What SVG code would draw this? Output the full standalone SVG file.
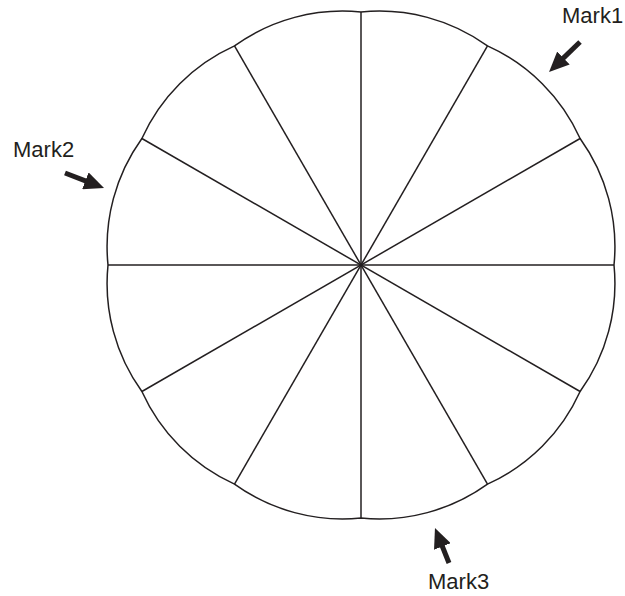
<svg xmlns="http://www.w3.org/2000/svg" width="625" height="596" viewBox="0 0 625 596">
<style>
.ln{fill:none;stroke:#231f20;stroke-width:1.5}
.ar{fill:none;stroke:#231f20;stroke-width:5}
.lb{font-family:"Liberation Sans",Arial,sans-serif;font-size:22px;fill:#231f20}
</style>
<defs>
<marker id="head" viewBox="0 0 20 18" refX="7" refY="9" markerWidth="20" markerHeight="18" markerUnits="userSpaceOnUse" orient="auto">
<path d="M0,0 L20,9 L0,18 z" fill="#231f20"/>
</marker>
</defs>
<rect width="625" height="596" fill="#fff"/>
<g id="wheel">
<path class="ln" d="M361,12 A185,185 0 0 1 487.5,45.9 A185,185 0 0 1 580.1,138.5 A185,185 0 0 1 614,265 A185,185 0 0 1 580.1,391.5 A185,185 0 0 1 487.5,484.1 A185,185 0 0 1 361,518 A185,185 0 0 1 234.5,484.1 A185,185 0 0 1 141.9,391.5 A185,185 0 0 1 108,265 A185,185 0 0 1 141.9,138.5 A185,185 0 0 1 234.5,45.9 A185,185 0 0 1 361,12 Z"/>
</g>
<g id="spokes">
<line class="ln" x1="361" y1="12" x2="361" y2="518"/>
<line class="ln" x1="108" y1="265" x2="614" y2="265"/>
<line class="ln" x1="487.5" y1="45.9" x2="234.5" y2="484.1"/>
<line class="ln" x1="580.1" y1="138.5" x2="141.9" y2="391.5"/>
<line class="ln" x1="580.1" y1="391.5" x2="141.9" y2="138.5"/>
<line class="ln" x1="487.5" y1="484.1" x2="234.5" y2="45.9"/>
</g>
<g id="connectors">
<line class="ar" x1="580" y1="42" x2="558.4" y2="62.9" marker-end="url(#head)"/>
<line class="ar" x1="65" y1="173" x2="91.9" y2="183.3" marker-end="url(#head)"/>
<line class="ar" x1="449" y1="563" x2="439.8" y2="540" marker-end="url(#head)"/>
</g>
<g id="mark1"><text class="lb" x="562" y="23">Mark1</text></g>
<g id="mark2"><text class="lb" x="13" y="157">Mark2</text></g>
<g id="mark3"><text class="lb" x="428" y="589">Mark3</text></g>
</svg>
